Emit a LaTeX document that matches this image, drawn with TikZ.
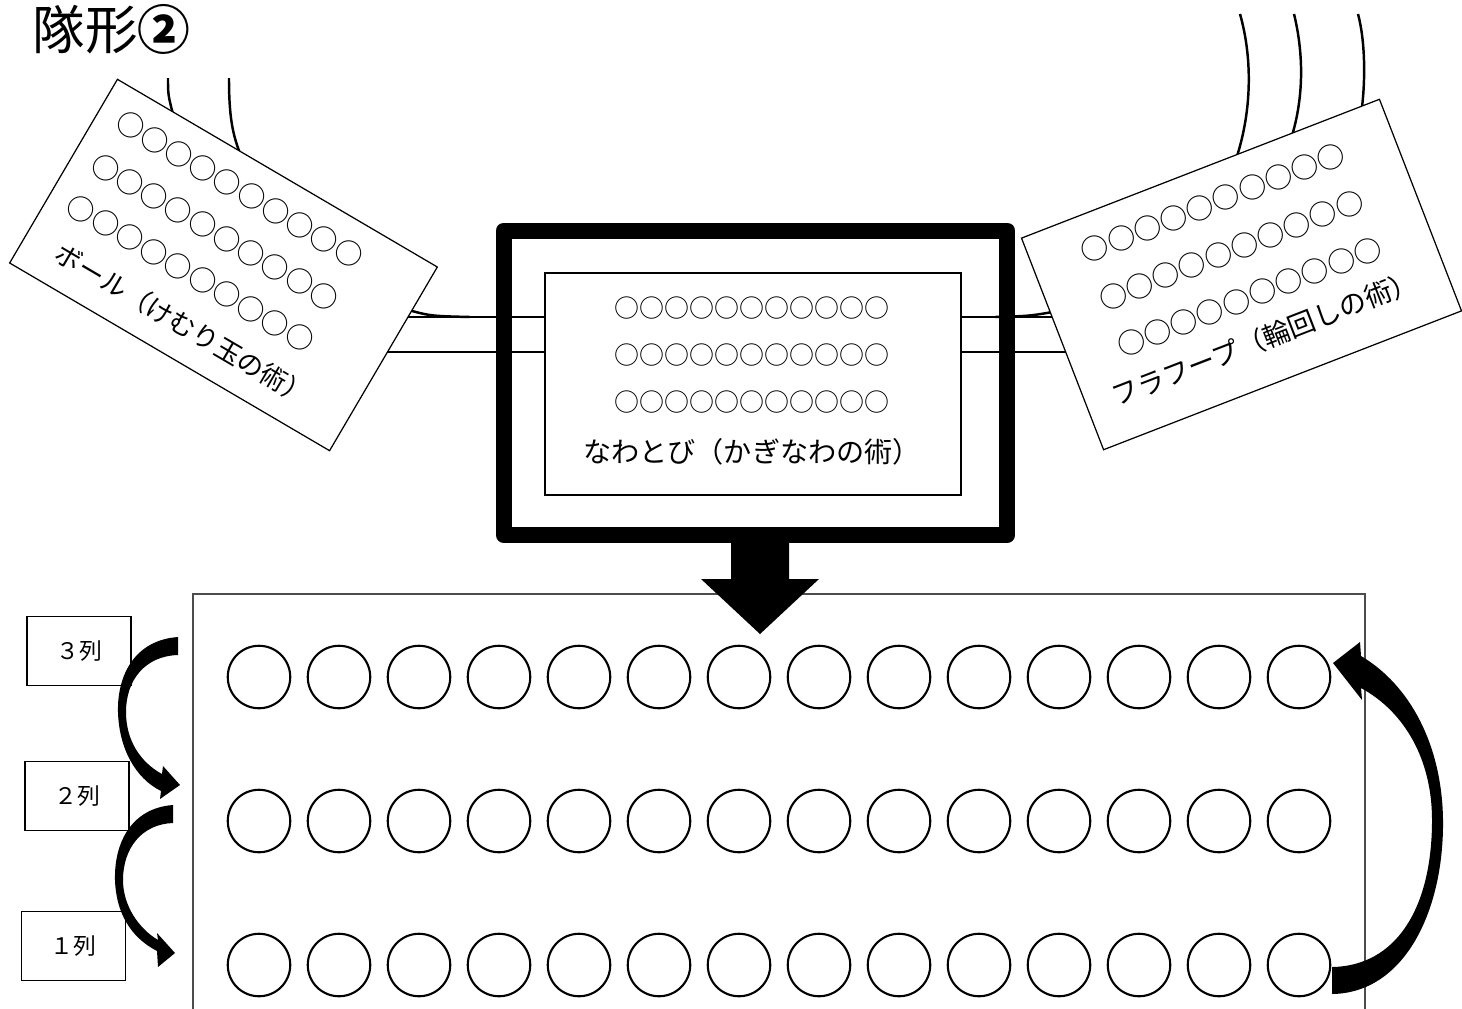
\documentclass[tikz,border=0pt]{standalone}
\usepackage{fontspec}
\setmainfont{Noto Sans CJK JP}
\newcommand{\fs}[1]{\fontsize{#1}{#1}\selectfont}
\newcommand{\tenmarks}{○○○○○○○○○○}
\begin{document}
\begin{tikzpicture}[x=0.02cm, y=-0.02cm,
    rope/.style={line width=1.4pt},
    card/.style={draw, fill=white, line width=0.7pt, inner sep=0pt},
    dots/.style={anchor=west, inner sep=0pt, font=\fs{16pt}},
    cardtext/.style={anchor=west, inner sep=0pt, font=\fs{15pt}},
    seat/.style={circle, draw, line width=1.2pt, minimum size=1.25cm, inner sep=0pt},
    lbl/.style={draw, line width=0.6pt, minimum width=2.08cm, minimum height=1.38cm, inner sep=0pt, font=\fs{13pt}}]
  \clip (0,0) rectangle (1462,1008);
  \node[anchor=base west, inner sep=0pt, font=\fs{30pt}] (title) at (32,49) {隊形{\bfseries ②}};

  % ropes (behind the cards)
  \draw[rope] (395,317) -- (1060,317);
  \draw[rope] (375,352) -- (1075,352);
  \draw[rope] (405,309) .. controls (430,316) .. (470,317);
  \draw[rope] (1058,311) .. controls (1030,316) .. (995,317);
  \draw[rope] (168,78) .. controls (168,95) .. (174,118);
  \draw[rope] (229,78) .. controls (229,115) and (232,135) .. (242,158);
  \draw[rope] (1240,14) .. controls (1253,60) and (1252,115) .. (1234,165);
  \draw[rope] (1294,14) .. controls (1304,55) and (1304,100) .. (1290,142);
  \draw[rope] (1358,14) .. controls (1365,40) and (1366,80) .. (1361,115);

  % ball
  \node[card, minimum width=7.42cm, minimum height=4.26cm, rotate=-30.4] (ballcard) at (223.5,265) {};
  \begin{scope}[shift={(ballcard.north west)}, rotate=-30.4, transform shape]
    \foreach \v [count=\i] in {34,83,131}
      \node[dots] (ballrow\i) at (21,\v) {\tenmarks};
    \node[cardtext] (balllabel) at (36,179) {ボール（けむり玉の術）};
  \end{scope}

  % hula hoop
  \node[card, minimum width=7.68cm, minimum height=4.54cm, rotate=21.2] (hoopcard) at (1241.5,274.5) {};
  \begin{scope}[shift={(hoopcard.north west)}, rotate=21.2, transform shape]
    \foreach \v [count=\i] in {37,88,138}
      \node[dots] (hooprow\i) at (51,\v) {\tenmarks};
    \node[cardtext, font=\fs{15.5pt}] (hooplabel) at (28,182) {フラフープ（輪回しの術）};
  \end{scope}

  % rope jumping
  \node[draw, line width=0.32cm, line join=round, minimum width=10.08cm, minimum height=6.09cm, inner sep=0pt] (frame) at (755.5,382.75) {};
  \node[draw, fill=white, line width=0.8pt, minimum width=8.32cm, minimum height=4.44cm, inner sep=0pt] (ropebox) at (753,384) {};
  \foreach \y [count=\i] in {308,355,402}
    \node[inner sep=0pt, font=\fs{14.2pt}] (roperow\i) at (752,\y) {\tenmarks○};
  \node[inner sep=0pt, font=\fs{16pt}] (ropelabel) at (752,452) {なわとび（かぎなわの術）};

  % formation
  \draw[line width=0.6pt, black!70] (193,1030) -- (193,594) -- (1365,594) -- (1365,1030);
  \fill (731,535) -- (731,579) -- (701,579) -- (760,634) -- (819,579) -- (789,579) -- (789,535) -- cycle;
  \foreach \r/\y in {1/965,2/821,3/677}
    \foreach \c in {1,...,14}
      \node[seat] (s\r-\c) at ({259+80*(\c-1)},\y) {};

  \node[lbl] (row3) at (79,651) {３列};
  \node[lbl] (row2) at (77,796) {２列};
  \node[lbl] (row1) at (73.5,946) {１列};

  % curved arrows
  \fill (178,637) .. controls (135,640) and (117,675) .. (118,712)
    .. controls (119,748) and (135,778) .. (161,791) -- (160,799) -- (180,785) -- (163,766) -- (162,774)
    .. controls (140,762) and (126,740) .. (126,712) .. controls (126,680) and (145,656) .. (178,655) -- cycle;
  \fill (173,805) .. controls (132,808) and (114,842) .. (115,880)
    .. controls (116,912) and (130,937) .. (157,951) -- (158,967) -- (175,953) -- (157,933) -- (158,940)
    .. controls (138,928) and (123,905) .. (123,880) .. controls (123,848) and (142,824) .. (173,823) -- cycle;
  \fill (1332,994) .. controls (1405,993) and (1444,910) .. (1443,820)
    .. controls (1442,745) and (1410,685) .. (1361,656) -- (1360,642) -- (1333,663) -- (1362,700) -- (1361,688)
    .. controls (1405,712) and (1432,760) .. (1432,820) .. controls (1432,910) and (1395,966) .. (1332,967) -- cycle;
\end{tikzpicture}
\end{document}
